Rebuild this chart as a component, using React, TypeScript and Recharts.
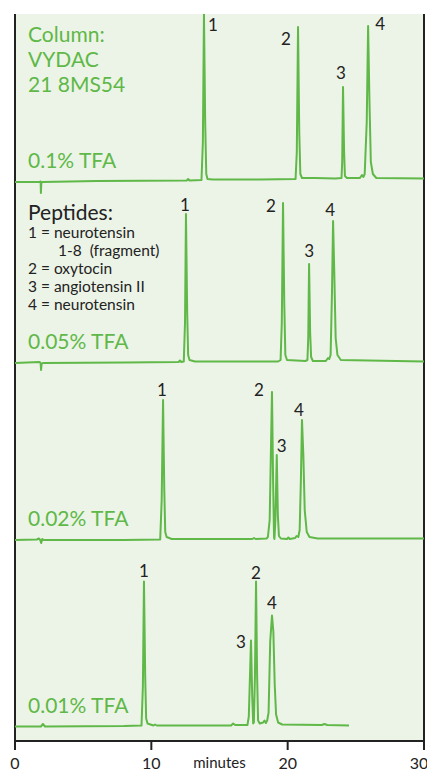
import { LineChart, Line, XAxis, YAxis, CartesianGrid, ReferenceLine, ReferenceDot } from "recharts";

// retention time (min) vs detector response, one trace per TFA concentration
const trace01: [number, number][] = [
  [0, 0], [1.8, 0], [1.88, 0.5], [1.9, -11], [1.93, -1], [2.0, 0], [6, 1], [12.6, 1.5], [12.7, 3], [12.8, 1.5],
  [13.68, 2], [13.78, 40], [13.86, 168], [13.95, 60], [14.03, 8], [14.12, 3], [14.5, 2.5], [18, 2.5],
  [20.58, 3], [20.67, 30], [20.76, 155], [20.85, 50], [20.93, 8], [21.05, 4], [22, 4], [23.5, 3.5],
  [23.95, 4], [24.0, 20], [24.06, 95], [24.14, 30], [24.2, 6], [24.35, 4], [25.3, 4], [25.45, 7], [25.55, 5],
  [25.65, 8], [25.8, 60], [25.9, 156], [26.0, 80], [26.1, 20], [26.25, 8], [26.5, 4], [30, 3.5],
];
const trace005: [number, number][] = [
  [0, 0], [1.8, 1], [1.88, 0], [1.91, -7], [1.95, -1], [2.05, 0], [8, 0.5], [12.0, 1], [12.1, 2.5], [12.2, 1],
  [12.38, 1.5], [12.47, 40], [12.54, 149], [12.63, 50], [12.7, 8], [12.8, 3], [13.2, 1.5], [19.3, 1.5],
  [19.48, 3], [19.57, 40], [19.66, 160], [19.75, 60], [19.83, 8], [19.95, 3], [21.3, 2],
  [21.45, 3], [21.51, 25], [21.57, 99], [21.65, 30], [21.72, 6], [21.85, 2], [22.8, 2], [22.96, 5], [23.05, 4],
  [23.15, 8], [23.25, 70], [23.33, 142], [23.42, 90], [23.52, 25], [23.65, 8], [23.9, 3], [30, 1.5],
];
const trace002: [number, number][] = [
  [0, 0], [1.6, 0.5], [1.75, 1.5], [1.85, 0], [1.92, -3], [2.0, 1], [2.1, 0], [8, 0], [10.65, 0.5],
  [10.76, 40], [10.86, 140], [10.95, 50], [11.02, 8], [11.12, 3], [11.5, 1], [17.4, 1], [17.53, 2], [17.65, 1],
  [18.45, 1.5], [18.55, 3], [18.68, 20], [18.85, 148], [18.93, 60], [19.0, 3], [19.03, 1],
  [19.1, 20], [19.2, 85], [19.28, 25], [19.36, 4], [19.5, 1.5], [19.95, 1], [20.05, 2.5], [20.15, 1],
  [20.55, 2], [20.65, 4], [20.78, 3], [20.88, 10], [20.97, 60], [21.05, 120], [21.15, 85], [21.25, 30],
  [21.4, 8], [21.6, 3], [22.2, 1.5], [30, 1.5],
];
const trace001: [number, number][] = [
  [0, 0], [1.9, 0], [2.05, 2.5], [2.2, 0], [8, 0.5], [9.28, 1], [9.38, 40], [9.46, 145], [9.55, 50],
  [9.62, 8], [9.72, 3], [10.15, 1], [10.27, 2], [10.4, 1], [15.85, 1], [16.0, 3], [16.15, 1.5], [17.05, 1.5],
  [17.15, 10], [17.31, 86], [17.4, 30], [17.47, 3], [17.52, 4], [17.6, 50], [17.68, 145], [17.76, 50],
  [17.83, 6], [17.95, 3], [18.2, 4], [18.3, 6], [18.4, 3.5], [18.5, 6], [18.6, 14], [18.72, 85], [18.85, 111],
  [18.95, 95], [19.05, 42], [19.15, 12], [19.3, 4], [19.6, 2], [22.5, 1.5], [22.7, 2.5], [22.9, 1.5], [24.5, 1],
];

const tfaLabels = ["0.1% TFA", "0.05% TFA", "0.02% TFA", "0.01% TFA"];
const peakNames = ["1", "2", "3", "4"];
const peakTimes = [
  [13.86, 20.76, 24.06, 25.9],
  [12.54, 19.66, 21.57, 23.33],
  [10.86, 18.85, 19.2, 21.05],
  [9.46, 17.68, 17.31, 18.85],
];
const peakHeights = [
  [168, 155, 95, 156],
  [149, 160, 99, 142],
  [140, 148, 85, 120],
  [145, 145, 86, 111],
];
const peptides = ["1 = neurotensin", "1-8  (fragment)", "2 = oxytocin", "3 = angiotensin II", "4 = neurotensin"];
const xTicks = [0, 10, 20, 30];

const traces = [trace01, trace005, trace002, trace001].map((tr) => tr.map(([t, v]) => ({ t, v })));

// layout: y-domains put each trace in its own band, label offsets in px
const domains: [number, number][] = [[-559, 168], [-378, 349], [-201, 526], [-14.5, 712.5]];
const labelOffsets = [
  [[9, 17], [-12, 18], [-2, -8], [12, 4]],
  [[-1, -3], [-12, 9], [0, -7], [-3, -5]],
  [[-1, -4], [-13, 4], [5, -3], [-3, -4]],
  [[0, -5], [0, -3], [-10, 7], [0, -7]],
];
const tfaY = [168, 349, 526, 713];

const GREEN = "#5fb848";
const FONT = "Lato, 'Open Sans', sans-serif";

export default function App() {
  return (
    <div style={{ position: "absolute", left: 0, top: 0, width: 427, height: 772, background: "#fff" }}>
      <LineChart width={427} height={772} margin={{ top: 14, right: 3, bottom: 0, left: 15 }}>
        <CartesianGrid yAxisId="p0" horizontal={false} vertical={false} fill="#ecf4e7" />
        <XAxis
          dataKey="t"
          type="number"
          domain={[0, 30]}
          ticks={xTicks}
          height={31}
          axisLine={{ stroke: "#222", strokeWidth: 2 }}
          tickLine={{ stroke: "#222", strokeWidth: 2 }}
          tickSize={9}
          tickMargin={8}
          tick={{ fill: "#222", fontSize: 16, fontFamily: FONT }}
          label={(p: any) => (
            <text x={p.viewBox.x + p.viewBox.width / 2} y={768} textAnchor="middle" fontSize={15} fontFamily={FONT} fill="#222">
              minutes
            </text>
          )}
        />
        {domains.map((d, i) => (
          <YAxis key={i} yAxisId={`p${i}`} hide domain={d} allowDataOverflow type="number" />
        ))}
        <ReferenceLine yAxisId="p0" x={0} stroke="#222" strokeWidth={2} />
        <ReferenceLine yAxisId="p0" x={30} stroke="#222" strokeWidth={2} />
        {traces.map((data, i) => (
          <Line
            key={i}
            yAxisId={`p${i}`}
            data={data}
            dataKey="v"
            type="linear"
            stroke={GREEN}
            strokeWidth={2}
            strokeLinejoin="round"
            dot={false}
            activeDot={false}
            isAnimationActive={false}
          />
        ))}
        {peakTimes.map((times, i) =>
          times.map((t, j) => (
            <ReferenceDot
              key={`${i}-${j}`}
              yAxisId={`p${i}`}
              x={t}
              y={peakHeights[i][j]}
              r={1}
              fill="none"
              stroke="none"
              ifOverflow="visible"
              label={(p: any) => (
                <text
                  x={p.viewBox.x + 1 + labelOffsets[i][j][0]}
                  y={p.viewBox.y + 1 + labelOffsets[i][j][1]}
                  textAnchor="middle"
                  fontSize={17}
                  fontFamily={FONT}
                  fill="#222"
                >
                  {peakNames[j]}
                </text>
              )}
            />
          ))
        )}
      </LineChart>
      <svg width={427} height={772} style={{ position: "absolute", left: 0, top: 0, pointerEvents: "none" }}>
        <g fontFamily={FONT} fill={GREEN} fontSize={21}>
          <text x={28} y={42}>Column:</text>
          <text x={28} y={67}>VYDAC</text>
          <text x={28} y={92}>21 8MS54</text>
          {tfaLabels.map((s, i) => (
            <text key={s} x={28} y={tfaY[i]}>{s}</text>
          ))}
        </g>
        <g fontFamily={FONT} fill="#222">
          <text x={28} y={220} fontSize={21}>Peptides:</text>
          {peptides.map((s, i) => (
            <text key={s} x={i === 1 ? 58 : 28} y={238 + i * 18} fontSize={15.5} xmlSpace="preserve">{s}</text>
          ))}
        </g>
      </svg>
    </div>
  );
}
